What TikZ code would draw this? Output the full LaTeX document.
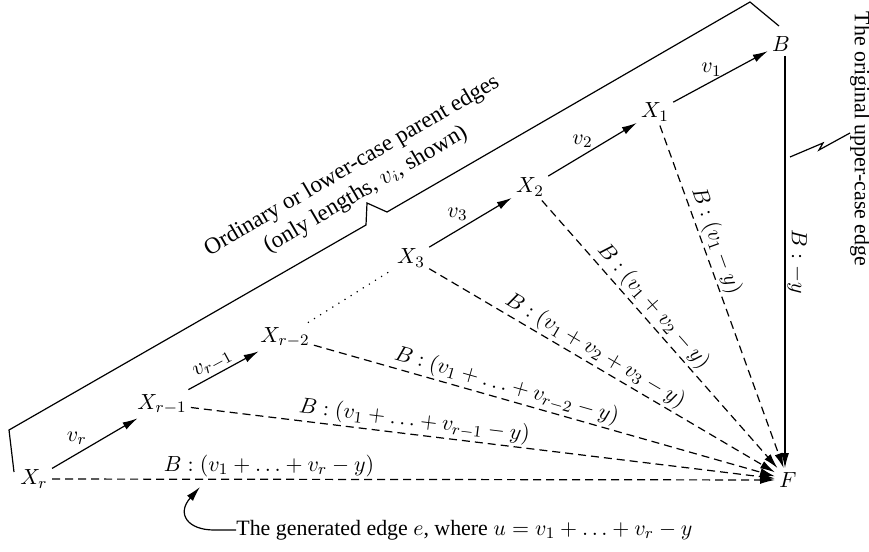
\documentclass[tikz,border=0pt]{standalone}
\usepackage[no-math]{fontspec}
\setmainfont{Liberation Serif}
\usetikzlibrary{arrows.meta}
\begin{document}
\begin{tikzpicture}[x=0.5pt,y=-0.5pt,
  every node/.style={font=\fontsize{10.95}{13}\selectfont},
  lab/.style={inner sep=2pt},
  ln/.style={line width=0.6pt},
  arr/.style={ln,-{Latex[length=7.5pt,width=4pt]}},
  dsh/.style={arr,dash pattern=on 4pt off 2.5pt},
  lbl/.style={sloped,above,inner sep=1pt}]
\useasboundingbox (0,0) rectangle (869,552);
% vertices
\node[lab] (Xr)  at (34,479)  {$X_r$};
\node[lab] (Xr1) at (162,404) {$X_{r-1}$};
\node[lab] (Xr2) at (285,337) {$X_{r-2}$};
\node[lab] (X3)  at (411,258) {$X_3$};
\node[lab] (X2)  at (530,187) {$X_2$};
\node[lab] (X1)  at (655,112) {$X_1$};
\node[lab] (B)   at (781,44)  {$B$};
\node[lab] (F)   at (788,480) {$F$};
% parent edges
\draw[arr] (Xr) -- (Xr1) node[midway,shift={(-18,-5)}] {$v_r$};
\draw[arr] (Xr1) -- (Xr2) node[lbl,pos=0.42] {$v_{r-1}$};
\draw[ln,dash pattern=on 0.6pt off 3pt] (Xr2) -- (X3);
\draw[arr] (X3) -- (X2) node[midway,shift={(-13,-8)}] {$v_3$};
\draw[arr] (X2) -- (X1) node[midway,shift={(-10,-8)}] {$v_2$};
\draw[arr] (X1) -- (B) node[midway,shift={(-9,-7)}] {$v_1$};
% upper-case edge
\draw[arr] ([xshift=2pt]B.south) -- ([xshift=2pt]B.south |- F.north) node[lbl,midway] {$B:-y$};
% generated edges
\draw[dsh] (X1) -- (F) node[lbl,pos=0.35] {$B:(v_1-y)$};
\draw[dsh] (X2) -- (F) node[lbl,pos=0.43] {$B:(v_1+v_2-y)$};
\draw[dsh] (X3) -- (F) node[lbl,pos=0.46] {$B:(v_1+v_2+v_3-y)$};
\draw[dsh] (Xr2) -- (F) node[lbl,pos=0.41] {$B:(v_1+\ldots+v_{r-2}-y)$};
\draw[dsh] (Xr1) -- (F) node[lbl,pos=0.38] {$B:(v_1+\ldots+v_{r-1}-y)$};
\draw[dsh] (Xr) -- (F) node[lbl,pos=0.30] {$B:(v_1+\ldots+v_r-y)$};
% brace over parent edges
\draw[ln] (14,472) -- (9,430) -- (366,225) -- (367,203) -- (387,212) -- (750,2) -- (779,26);
\node[rotate=30.3,align=center,inner sep=0pt,font=\fontsize{11.6}{13.6}\selectfont] (ord) at (359,178)
  {Ordinary or lower-case parent edges\\(only lengths, $v_i$, shown)};
% upper-case annotation
\draw[ln] (790,157) -- (823,143) -- (819,150) -- (850,133);
\node[rotate=-90,inner sep=0pt] (orig) at (860,139) {The original upper-case edge};
% generated edge annotation
\node[anchor=west,inner sep=0pt] (gen) at (236,530)
  {The generated edge $e$, where $u=v_1+\ldots+v_r-y$};
\coordinate (gtip) at (200,487);
\draw[arr] (gen.west) -- ++(-22,0) .. controls (188,530) and (176,514) .. (gtip);
\end{tikzpicture}
\end{document}
